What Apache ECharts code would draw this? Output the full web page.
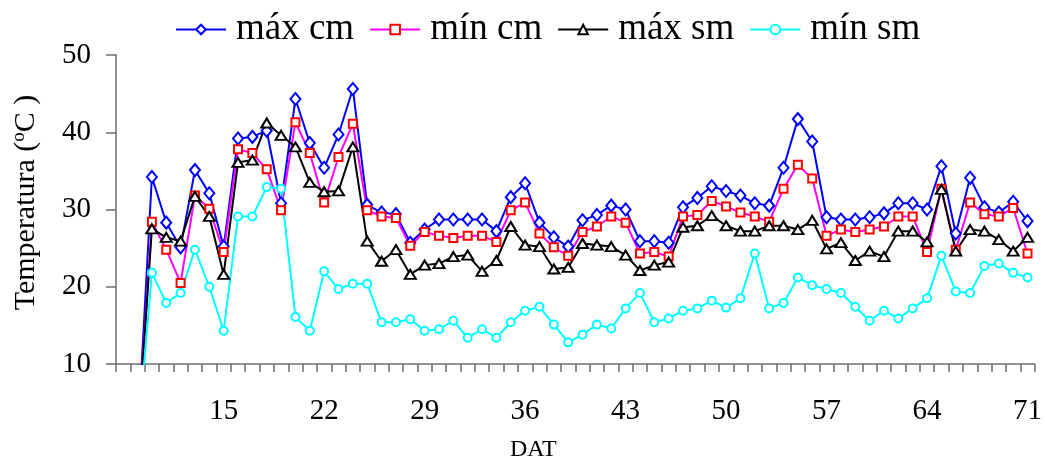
<!DOCTYPE html>
<html>
<head>
<meta charset="utf-8">
<script src="https://cdn.jsdelivr.net/npm/echarts@6/dist/echarts.min.js"></script>
<style>html,body{margin:0;padding:0;background:#fff}#c{width:1045px;height:467px}</style>
</head>
<body>
<div id="c"></div>
<script>
const days = [8,9,10,11,12,13,14,15,16,17,18,19,20,21,22,23,24,25,26,27,28,29,30,31,32,33,34,35,36,37,38,39,40,41,42,43,44,45,46,47,48,49,50,51,52,53,54,55,56,57,58,59,60,61,62,63,64,65,66,67,68,69,70,71];
const tickLabels = [15,22,29,36,43,50,57,64,71];
const yTicks = [10,20,30,40,50];

const maxCm = [null,0,34.2,28.3,25.1,35.1,32.1,25.2,39.2,39.4,40.2,30.8,44.3,38.6,35.4,39.7,45.6,30.6,29.6,29.4,25.7,27.4,28.7,28.7,28.7,28.7,27.2,31.6,33.4,28.3,26.4,25.2,28.6,29.3,30.5,30.0,25.9,25.9,25.7,30.3,31.5,33.0,32.4,31.8,30.8,30.5,35.4,41.7,38.8,29.0,28.7,28.7,29.0,29.5,30.8,30.8,30.0,35.6,26.9,34.1,30.3,29.6,31.0,28.5];
const minCm = [null,0,28.4,24.8,20.5,31.8,30.1,24.5,37.8,37.3,35.2,29.9,41.3,37.3,30.9,36.8,41.1,29.9,29.1,28.9,25.3,27.1,26.6,26.3,26.6,26.6,25.8,29.9,30.9,26.9,25.1,24.0,27.1,27.8,29.1,28.3,24.3,24.5,23.9,29.1,29.3,31.1,30.4,29.6,29.1,28.4,32.7,35.8,34.0,26.6,27.4,27.1,27.4,27.8,29.1,29.1,24.5,32.7,24.8,30.9,29.4,29.1,30.2,24.3];
const maxSm = [null,0,27.5,26.4,25.9,31.7,29.1,21.6,36.1,36.4,41.2,39.6,38.1,33.5,32.3,32.4,38.1,25.9,23.3,24.8,21.6,22.8,23.0,23.9,24.1,22.0,23.4,27.8,25.4,25.2,22.3,22.5,25.6,25.4,25.2,24.1,22.1,22.8,23.2,27.7,27.9,29.2,27.9,27.2,27.2,27.9,27.9,27.4,28.6,24.9,25.7,23.4,24.6,23.9,27.2,27.2,25.8,32.6,24.6,27.4,27.2,26.1,24.6,26.4];
const minSm = [null,0,21.8,17.9,19.2,24.8,20.0,14.3,29.1,29.1,32.9,32.7,16.1,14.3,22.0,19.7,20.4,20.4,15.4,15.4,15.8,14.3,14.5,15.6,13.4,14.5,13.4,15.4,16.9,17.4,15.1,12.8,13.8,15.1,14.6,17.2,19.2,15.4,15.9,16.9,17.2,18.2,17.3,18.5,24.3,17.2,17.9,21.2,20.2,19.7,19.2,17.4,15.6,16.9,15.9,17.2,18.5,24.0,19.4,19.2,22.7,23.0,21.8,21.2];

const FONT = "'Liberation Serif','Times New Roman',serif";
const axisColor = '#6e6e6e';

function mk(name, data, lineColor, markColor, symbol, size) {
  return {
    name: name, type: 'line', data: data,
    symbol: symbol, symbolSize: size, showAllSymbol: true,
    lineStyle: { color: lineColor, width: 2 },
    itemStyle: { color: markColor, borderColor: markColor, borderWidth: 2 },
    emphasis: { disabled: true },
    animation: false
  };
}

const chart = echarts.init(document.getElementById('c'), null, { renderer: 'canvas' });
chart.setOption({
  backgroundColor: '#fff',
  animation: false,
  textStyle: { fontFamily: FONT },
  legend: {
    left: 170, top: 6,
    itemWidth: 50, itemHeight: 12, itemGap: 15,
    textStyle: { fontFamily: FONT, fontSize: 37, color: '#000', padding: [0, 0, 0, 5] },
    data: ['máx cm', 'mín cm', 'máx sm', 'mín sm']
  },
  grid: { left: 116, right: 7, top: 55, bottom: 98, containLabel: false },
  xAxis: {
    type: 'category', data: days, boundaryGap: true,
    name: 'DAT', nameLocation: 'middle', nameGap: 74,
    nameTextStyle: { fontFamily: FONT, fontSize: 24, color: '#000', padding: [0, 84, 0, 0] },
    axisLine: { lineStyle: { color: axisColor, width: 1.5 } },
    axisTick: { show: true, interval: 0, length: 8, lineStyle: { color: axisColor, width: 1.5 } },
    axisLabel: {
      interval: function (i, v) { return tickLabels.indexOf(Number(v)) >= 0; },
      fontFamily: FONT, fontSize: 29, color: '#000', margin: 33
    },
    splitLine: { show: false }
  },
  yAxis: {
    type: 'value', min: yTicks[0], max: yTicks[yTicks.length - 1], interval: 10,
    name: 'Temperatura ({sup|o}C )', nameLocation: 'middle', nameGap: 73,
    nameTextStyle: {
      fontFamily: FONT, fontSize: 30, color: '#000', padding: [0, 0, 0, 14],
      rich: { sup: { fontFamily: FONT, fontSize: 19, color: '#000', padding: [0, 0, 14, 0] } }
    },
    axisLine: { show: true, lineStyle: { color: axisColor, width: 1.5 } },
    axisTick: { show: true, length: 10, lineStyle: { color: axisColor, width: 1.5 } },
    axisLabel: { fontFamily: FONT, fontSize: 29, color: '#000', margin: 25 },
    splitLine: { show: false }
  },
  series: [
    mk('máx cm', maxCm, '#0000ff', '#0000ff', 'emptyDiamond', [10, 12]),
    mk('mín cm', minCm, '#ff00ff', '#ff0000', 'emptyRect', 8),
    mk('máx sm', maxSm, '#000000', '#000000', 'emptyTriangle', [11, 9]),
    mk('mín sm', minSm, '#00ffff', '#00ffff', 'emptyCircle', 8)
  ]
});
</script>
</body>
</html>
